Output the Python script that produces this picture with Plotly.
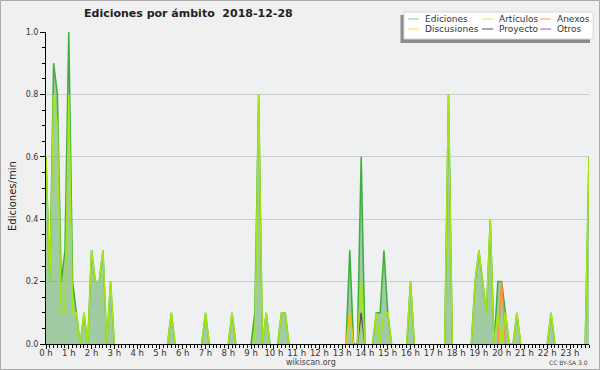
import plotly.graph_objects as go

# 10-minute bins, 0:00 .. 23:50 (144 values per series), edits/min
ediciones = [
    0.6, 0.2, 0.9, 0.8, 0.2, 0.3,   # 0 h
    1.0, 0.2, 0.1, 0.0, 0.1, 0.0,   # 1 h
    0.3, 0.2, 0.2, 0.3, 0.0, 0.2,   # 2 h
    0.0, 0.0, 0.0, 0.0, 0.0, 0.0,   # 3 h
    0.0, 0.0, 0.0, 0.0, 0.0, 0.0,   # 4 h
    0.0, 0.0, 0.0, 0.1, 0.0, 0.0,   # 5 h
    0.0, 0.0, 0.0, 0.0, 0.0, 0.0,   # 6 h
    0.1, 0.0, 0.0, 0.0, 0.0, 0.0,   # 7 h
    0.0, 0.1, 0.0, 0.0, 0.0, 0.0,   # 8 h
    0.0, 0.1, 0.8, 0.0, 0.1, 0.0,   # 9 h
    0.0, 0.0, 0.1, 0.1, 0.0, 0.0,   # 10 h
    0.0, 0.0, 0.0, 0.0, 0.0, 0.0,   # 11 h
    0.0, 0.0, 0.0, 0.0, 0.0, 0.0,   # 12 h
    0.0, 0.0, 0.3, 0.0, 0.0, 0.6,   # 13 h
    0.0, 0.0, 0.0, 0.1, 0.1, 0.3,   # 14 h
    0.1, 0.0, 0.0, 0.0, 0.0, 0.0,   # 15 h
    0.2, 0.0, 0.0, 0.0, 0.0, 0.0,   # 16 h
    0.0, 0.0, 0.0, 0.0, 0.8, 0.0,   # 17 h
    0.0, 0.0, 0.0, 0.0, 0.0, 0.2,   # 18 h
    0.3, 0.2, 0.1, 0.4, 0.0, 0.2,   # 19 h
    0.2, 0.1, 0.0, 0.0, 0.1, 0.0,   # 20 h
    0.0, 0.0, 0.0, 0.0, 0.0, 0.0,   # 21 h
    0.0, 0.1, 0.0, 0.0, 0.0, 0.0,   # 22 h
    0.0, 0.0, 0.0, 0.0, 0.0, 0.6,   # 23 h
]
articulos = [
    0.6, 0.2, 0.8, 0.7, 0.1, 0.1,
    0.8, 0.1, 0.1, 0.0, 0.1, 0.0,
    0.3, 0.2, 0.2, 0.3, 0.0, 0.2,
    0.0, 0.0, 0.0, 0.0, 0.0, 0.0,
    0.0, 0.0, 0.0, 0.0, 0.0, 0.0,
    0.0, 0.0, 0.0, 0.1, 0.0, 0.0,
    0.0, 0.0, 0.0, 0.0, 0.0, 0.0,
    0.1, 0.0, 0.0, 0.0, 0.0, 0.0,
    0.0, 0.1, 0.0, 0.0, 0.0, 0.0,
    0.0, 0.0, 0.8, 0.0, 0.1, 0.0,
    0.0, 0.0, 0.1, 0.1, 0.0, 0.0,
    0.0, 0.0, 0.0, 0.0, 0.0, 0.0,
    0.0, 0.0, 0.0, 0.0, 0.0, 0.0,
    0.0, 0.0, 0.0, 0.0, 0.0, 0.2,
    0.0, 0.0, 0.0, 0.1, 0.0, 0.1,
    0.1, 0.0, 0.0, 0.0, 0.0, 0.0,
    0.2, 0.0, 0.0, 0.0, 0.0, 0.0,
    0.0, 0.0, 0.0, 0.0, 0.8, 0.0,
    0.0, 0.0, 0.0, 0.0, 0.0, 0.2,
    0.3, 0.2, 0.1, 0.4, 0.0, 0.1,
    0.0, 0.1, 0.0, 0.0, 0.1, 0.0,
    0.0, 0.0, 0.0, 0.0, 0.0, 0.0,
    0.0, 0.1, 0.0, 0.0, 0.0, 0.0,
    0.0, 0.0, 0.0, 0.0, 0.0, 0.6,
]
anexos = [0.0] * 144
anexos[120] = 0.2
discusiones = [0.0] * 144
discusiones[80] = 0.1
proyecto = [0.0] * 144
proyecto[83] = 0.1
otros = [0.0] * 144

hour_ticks = list(range(24))
hour_labels = [f"{h} h" for h in hour_ticks]
x_hours = [i / 6 for i in range(144)]


def visible(values):
    """Hide flat runs lying on the zero baseline (drawn under the axis)."""
    out = []
    n = len(values)
    for i, v in enumerate(values):
        left = values[i - 1] if i > 0 else 0
        right = values[i + 1] if i < n - 1 else 0
        out.append(None if (v == 0 and left == 0 and right == 0) else v)
    return out


W, H = 600, 370
ML, MR, MT, MB = 46, 11, 32, 26
PW, PH = W - ML - MR, H - MT - MB


def fx(x):
    return (x - ML) / PW


def fy(y):
    return 1 - (y - MT) / PH


FONT = "DejaVu Sans"
fig = go.Figure()

fig.add_trace(go.Scatter(
    x=x_hours, y=visible(ediciones), name="Ediciones", mode="lines",
    line=dict(color="#3cae3c", width=1.5), fill="tozeroy",
    fillcolor="rgba(120,185,120,0.65)", connectgaps=False,
))
series = [
    ("Proyecto", proyecto, "#555555"),
    ("Discusiones", discusiones, "#f2c600"),
    ("Anexos", anexos, "#ff8c40"),
    ("Otros", otros, "#9b4de0"),
    ("Artículos", articulos, "#a6e612"),
]
for name, vals, col in series:
    fig.add_trace(go.Scatter(
        x=x_hours, y=visible(vals), name=name, mode="lines",
        line=dict(color=col, width=1.5), connectgaps=False,
    ))

shapes = []
shapes.append(dict(type="rect", xref="paper", yref="paper",
                   x0=fx(400.5), x1=fx(590), y0=fy(43), y1=fy(15),
                   fillcolor="#8c8c8c", line=dict(width=0), layer="above"))
shapes.append(dict(type="rect", xref="paper", yref="paper",
                   x0=fx(404), x1=fx(593), y0=fy(39), y1=fy(12),
                   fillcolor="#ffffff", line=dict(color="#d8d8d8", width=1),
                   layer="above"))
legend_items = [
    ("Ediciones", "#88d888", 408, 19),
    ("Artículos", "#c8f060", 482, 19),
    ("Anexos", "#ff9a66", 540, 19),
    ("Discusiones", "#ffd550", 408, 29),
    ("Proyecto", "#555555", 482, 29),
    ("Otros", "#9b4de0", 540, 29),
]
annotations = []
for name, col, lx, ly in legend_items:
    shapes.append(dict(type="line", xref="paper", yref="paper",
                       x0=fx(lx), x1=fx(lx + 11), y0=fy(ly), y1=fy(ly),
                       line=dict(color=col, width=1), layer="above"))
    annotations.append(dict(xref="paper", yref="paper", x=fx(lx + 15),
                            y=fy(ly), xanchor="left", yanchor="middle",
                            text=name, showarrow=False,
                            font=dict(family=FONT, size=9, color="#333333")))

annotations.append(dict(xref="paper", yref="paper", x=fx(188), y=fy(14),
                        xanchor="center", yanchor="middle",
                        text="<b>Ediciones por ámbito  2018-12-28</b>",
                        showarrow=False,
                        font=dict(family=FONT, size=11, color="#222222")))
annotations.append(dict(xref="paper", yref="paper", x=fx(311), y=fy(362),
                        xanchor="center", yanchor="middle", text="wikiscan.org",
                        showarrow=False,
                        font=dict(family=FONT, size=8, color="#444444")))
annotations.append(dict(xref="paper", yref="paper", x=fx(590), y=fy(362),
                        xanchor="right", yanchor="middle", text="CC BY-SA 3.0",
                        showarrow=False,
                        font=dict(family=FONT, size=6, color="#444444")))
annotations.append(dict(xref="paper", yref="paper", x=fx(12), y=fy(196),
                        xanchor="center", yanchor="middle", text="Ediciones/min",
                        textangle=-90, showarrow=False,
                        font=dict(family=FONT, size=10, color="#222222")))

shapes.append(dict(type="rect", xref="paper", yref="paper", x0=fx(0.5),
                   x1=fx(599.5), y0=fy(369.5), y1=fy(0.5),
                   line=dict(color="#aaaaaa", width=1), layer="below"))

fig.update_layout(
    width=W, height=H,
    margin=dict(l=ML, r=MR, t=MT, b=MB, autoexpand=False),
    paper_bgcolor="#f0f0f0", plot_bgcolor="#eef0f2",
    showlegend=False,
    shapes=shapes, annotations=annotations,
    font=dict(family=FONT, size=9, color="#333333"),
)
fig.update_xaxes(
    range=[0, 143 / 6], tickvals=hour_ticks, ticktext=hour_labels,
    automargin=False,
    showgrid=False, zeroline=False, showline=True, linecolor="#000000",
    linewidth=1, ticks="outside", ticklen=4, tickcolor="#000000",
    ticklabelstandoff=-3,
    tickfont=dict(family=FONT, size=8.5, color="#333333"),
    minor=dict(dtick=1 / 6, tick0=0, ticks="outside", ticklen=3,
               tickcolor="#000000", showgrid=False),
)
fig.update_yaxes(
    range=[0, 1], tickvals=[0, 0.2, 0.4, 0.6, 0.8, 1.0], tickformat=".1f",
    automargin=False,
    showgrid=True, gridcolor="#cccccc", gridwidth=1, zeroline=False,
    showline=True, linecolor="#000000", linewidth=1, ticks="outside",
    ticklen=5, tickcolor="#000000",
    tickfont=dict(family=FONT, size=8, color="#333333"),
    minor=dict(dtick=0.05, tick0=0, ticks="outside", ticklen=3,
               tickcolor="#000000", showgrid=False),
)

fig.write_html(
    "out.html",
    config={"displayModeBar": False},
    post_script="document.body.style.margin='0';document.body.style.padding='0';",
)
